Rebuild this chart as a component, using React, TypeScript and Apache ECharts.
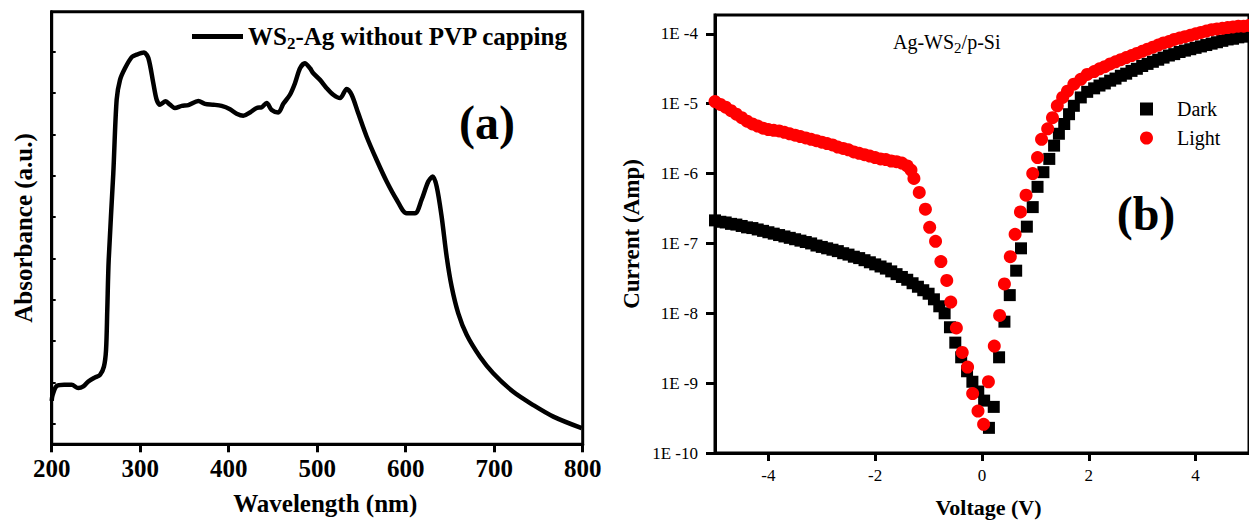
import React, { useEffect, useRef } from "react";
import * as echarts from "echarts";

// ---------- Panel (a): UV-Vis absorbance ----------
const wavelength = [200, 201, 205.6, 214, 222.6, 230, 235.7, 241.4, 249, 254.6, 259, 261.4, 262.8, 264.4, 269.6, 273.4, 277.2, 282.8, 290.4, 296, 304.3, 309.2, 314.8, 318.6, 322.4, 328.8, 333.7, 339.3, 346.9, 354.4, 365.7, 373.2, 382.6, 392, 401.5, 409, 416.5, 424, 431.6, 437.3, 442.9, 448.6, 456, 461.7, 469.2, 474.9, 480.6, 486, 491.9, 495.6, 503.2, 510.7, 518.2, 525.8, 533.3, 538.9, 546.4, 555.8, 567.2, 578.5, 589.8, 601.1, 610.5, 618, 625.5, 630.5, 635, 640.6, 646.3, 651.9, 659.4, 668.9, 683.9, 698.9, 721.5, 744.1, 766.8, 798.9];
const absorbance = [1.05, 1.19, 1.41, 1.44, 1.44, 1.36, 1.40, 1.52, 1.62, 1.68, 1.88, 2.28, 3.25, 4.46, 6.56, 8.34, 8.82, 9.10, 9.37, 9.43, 9.48, 9.35, 8.74, 8.34, 8.22, 8.30, 8.22, 8.14, 8.19, 8.21, 8.31, 8.24, 8.22, 8.19, 8.11, 8.00, 7.95, 8.03, 8.14, 8.16, 8.26, 8.09, 8.03, 8.24, 8.46, 8.74, 9.10, 9.22, 9.10, 8.98, 8.82, 8.62, 8.46, 8.38, 8.60, 8.46, 8.01, 7.45, 6.88, 6.36, 5.92, 5.59, 5.59, 5.92, 6.36, 6.48, 6.24, 5.51, 4.54, 3.82, 3.17, 2.65, 2.12, 1.72, 1.27, 0.95, 0.67, 0.39];
const wavelengthTicks = [200, 300, 400, 500, 600, 700, 800];
const absorbanceTicks = [0.5, 1.5, 2.5, 3.5, 4.5, 5.5, 6.5, 7.5, 8.5, 9.5];

// ---------- Panel (b): I-V, current stored as log10(I / A) ----------
const darkV = [-5.0, -4.9, -4.8, -4.7, -4.6, -4.5, -4.4, -4.3, -4.2, -4.1, -4.0, -3.9, -3.8, -3.7, -3.6, -3.5, -3.4, -3.3, -3.2, -3.1, -3.0, -2.9, -2.8, -2.7, -2.6, -2.5, -2.4, -2.3, -2.2, -2.1, -2.0, -1.9, -1.8, -1.7, -1.6, -1.5, -1.4, -1.3, -1.2, -1.1, -1.0, -0.9, -0.8, -0.7,
  -0.6, -0.5, -0.39, -0.28, -0.18, -0.07, 0.04, 0.13, 0.22, 0.32, 0.42, 0.52, 0.64, 0.73, 0.84, 0.95, 1.04, 1.15, 1.26, 1.35, 1.44, 1.54, 1.63, 1.72, 1.85, 1.97,
  2.1, 2.2, 2.3, 2.4, 2.5, 2.6, 2.7, 2.8, 2.9, 3.0, 3.1, 3.2, 3.3, 3.4, 3.5, 3.6, 3.7, 3.8, 3.9, 4.0, 4.1, 4.2, 4.3, 4.4, 4.5, 4.6, 4.7, 4.8, 4.9, 5.0];
const darkLogI = [-6.67, -6.69, -6.70, -6.72, -6.73, -6.75, -6.77, -6.78, -6.80, -6.82, -6.84, -6.86, -6.88, -6.90, -6.92, -6.94, -6.96, -6.98, -7.00, -7.03, -7.05, -7.07, -7.09, -7.11, -7.14, -7.16, -7.19, -7.21, -7.24, -7.27, -7.30, -7.33, -7.36, -7.40, -7.44, -7.48, -7.52, -7.57, -7.62, -7.67, -7.72, -7.80, -7.90, -8.00,
  -8.20, -8.42, -8.63, -8.83, -8.98, -9.12, -9.25, -9.64, -9.34, -8.63, -8.12, -7.74, -7.39, -7.07, -6.76, -6.48, -6.19, -5.98, -5.79, -5.60, -5.43, -5.29, -5.15, -5.03, -4.91, -4.83,
  -4.78, -4.74, -4.71, -4.67, -4.64, -4.60, -4.57, -4.53, -4.50, -4.46, -4.43, -4.40, -4.37, -4.34, -4.31, -4.29, -4.26, -4.24, -4.22, -4.20, -4.18, -4.16, -4.14, -4.12, -4.10, -4.08, -4.07, -4.05, -4.04, -4.03];

const lightV = [-5.0, -4.9, -4.8, -4.7, -4.6, -4.5, -4.4, -4.3, -4.2, -4.1, -4.0, -3.9, -3.8, -3.7, -3.6, -3.5, -3.4, -3.3, -3.2, -3.1, -3.0, -2.9, -2.8, -2.7, -2.6, -2.5, -2.4, -2.3, -2.2, -2.1, -2.0, -1.9, -1.8, -1.7, -1.6, -1.5, -1.4, -1.33,
  -1.275, -1.175, -1.06, -0.98, -0.87, -0.77, -0.66, -0.585, -0.48, -0.37, -0.27, -0.175, -0.075, 0.03, 0.12, 0.23, 0.33, 0.42, 0.53, 0.62, 0.72, 0.825, 0.95, 1.04, 1.115, 1.23, 1.32, 1.41, 1.51, 1.60, 1.72, 1.85, 1.97,
  2.1, 2.2, 2.3, 2.4, 2.5, 2.6, 2.7, 2.8, 2.9, 3.0, 3.1, 3.2, 3.3, 3.4, 3.5, 3.6, 3.7, 3.8, 3.9, 4.0, 4.1, 4.2, 4.3, 4.4, 4.5, 4.6, 4.7, 4.8, 4.9, 5.0];
const lightLogI = [-4.97, -5.01, -5.05, -5.10, -5.15, -5.20, -5.25, -5.29, -5.32, -5.35, -5.37, -5.38, -5.39, -5.41, -5.43, -5.45, -5.47, -5.49, -5.51, -5.53, -5.55, -5.57, -5.59, -5.62, -5.64, -5.66, -5.69, -5.71, -5.73, -5.75, -5.77, -5.79, -5.80, -5.82, -5.83, -5.85, -5.89, -5.95,
  -6.07, -6.27, -6.51, -6.77, -6.97, -7.26, -7.53, -7.84, -8.21, -8.56, -8.77, -9.15, -9.40, -9.59, -8.98, -8.47, -8.03, -7.58, -7.19, -6.87, -6.55, -6.31, -6.00, -5.77, -5.51, -5.36, -5.20, -5.03, -4.91, -4.82, -4.72, -4.65, -4.58,
  -4.54, -4.50, -4.47, -4.43, -4.40, -4.37, -4.34, -4.31, -4.28, -4.25, -4.22, -4.19, -4.16, -4.13, -4.11, -4.08, -4.06, -4.04, -4.02, -4.00, -3.98, -3.96, -3.94, -3.93, -3.92, -3.91, -3.90, -3.89, -3.89, -3.88];

const voltageTicks = [-4, -2, 0, 2, 4];
const currentTicks = [-10, -9, -8, -7, -6, -5, -4];

const FONT = '"Liberation Serif", "Times New Roman", serif';

function zip(a: number[], b: number[]) {
  const n = Math.min(a.length, b.length);
  const out: number[][] = [];
  for (let i = 0; i < n; i++) out.push([a[i], b[i]]);
  return out;
}

export default function App() {
  const ref = useRef<HTMLDivElement>(null);
  useEffect(() => {
    if (!ref.current) return;
    const chart = echarts.init(ref.current, null, { renderer: "svg" });
    const axisLine = { onZero: false, lineStyle: { color: "#000", width: 3 } };
    const option: any = {
      animation: false,
      textStyle: { fontFamily: FONT },
      grid: [
        { left: 51.7, top: 11.7, width: 531, height: 432.6, show: true, borderColor: "#000", borderWidth: 3 },
        { left: 715, top: 15, width: 539, height: 441, show: true, borderColor: "#000", borderWidth: 3 },
      ],
      xAxis: [
        {
          gridIndex: 0, type: "value", min: 200, max: 800, interval: 100,
          axisLine,
          axisTick: { length: 8, customValues: wavelengthTicks, lineStyle: { color: "#000", width: 3 } },
          axisLabel: { customValues: wavelengthTicks, color: "#000", fontSize: 25, fontWeight: "bold", fontFamily: FONT, margin: 12 },
          splitLine: { show: false },
          name: "Wavelength (nm)", nameLocation: "middle", nameGap: 47,
          nameTextStyle: { color: "#000", fontSize: 25, fontWeight: "bold", fontFamily: FONT, padding: [0, 0, 0, 16] },
        },
        {
          gridIndex: 1, type: "value", min: -5, max: 5,
          axisLine,
          axisTick: { length: 8, customValues: voltageTicks, lineStyle: { color: "#000", width: 3 } },
          axisLabel: { customValues: voltageTicks, color: "#000", fontSize: 17, fontFamily: FONT, margin: 14 },
          splitLine: { show: false },
          name: "Voltage (V)", nameLocation: "middle", nameGap: 43,
          nameTextStyle: { color: "#000", fontSize: 22, fontWeight: "bold", fontFamily: FONT, padding: [0, 0, 0, 13] },
        },
      ],
      yAxis: [
        {
          gridIndex: 0, type: "value", min: 0, max: 10.47,
          axisLine,
          axisTick: { inside: true, length: 4, customValues: absorbanceTicks, lineStyle: { color: "#000", width: 2 } },
          axisLabel: { show: false },
          splitLine: { show: false },
          name: "Absorbance (a.u.)", nameLocation: "middle", nameGap: 16,
          nameTextStyle: { color: "#000", fontSize: 25, fontWeight: "bold", fontFamily: FONT },
        },
        {
          gridIndex: 1, type: "value", min: -10, max: -3.73,
          axisLine,
          axisTick: { length: 9, customValues: currentTicks, lineStyle: { color: "#000", width: 3 } },
          axisLabel: {
            customValues: currentTicks, color: "#000", fontSize: 17, fontFamily: FONT, margin: 17,
            formatter: (v: number) => "1E " + Math.round(v),
          },
          splitLine: { show: false },
          name: "Current (Amp)", nameLocation: "middle", nameGap: 72,
          nameTextStyle: { color: "#000", fontSize: 23, fontWeight: "bold", fontFamily: FONT },
        },
      ],
      legend: [
        {
          data: ["WS2-Ag without PVP capping"],
          left: 192, top: 24, padding: 0,
          icon: "rect", itemWidth: 51, itemHeight: 5,
          formatter: () => "{n|WS}{s|2}{n|-Ag without PVP capping}",
          textStyle: {
            color: "#000",
            rich: {
              n: { fontSize: 25, fontWeight: "bold", fontFamily: FONT, color: "#000", lineHeight: 24 },
              s: { fontSize: 17, fontWeight: "bold", fontFamily: FONT, color: "#000", lineHeight: 10, verticalAlign: "top", padding: [10, 0, 0, 0] },
            },
          },
        },
        {
          data: [{ name: "Dark", icon: "rect" }, { name: "Light", icon: "circle" }],
          orient: "vertical", left: 1140, top: 99, padding: 0,
          itemWidth: 13, itemHeight: 13, itemGap: 9,
          itemStyle: { opacity: 1 },
          textStyle: { color: "#000", fontSize: 20, fontFamily: FONT, lineHeight: 20, padding: [0, 0, 0, 19] },
        },
      ],
      graphic: [
        { type: "text", x: 487, y: 122, style: { text: "(a)", fontSize: 48, fontWeight: "bold", fontFamily: FONT, fill: "#000", align: "center", verticalAlign: "middle" } },
        { type: "text", x: 1146, y: 213, style: { text: "(b)", fontSize: 48, fontWeight: "bold", fontFamily: FONT, fill: "#000", align: "center", verticalAlign: "middle" } },
        {
          type: "text", x: 893, y: 42,
          style: {
            text: "{n|Ag-WS}{s|2}{n|/p-Si}", align: "left", verticalAlign: "middle",
            rich: {
              n: { fontSize: 20, fontFamily: FONT, fill: "#000", lineHeight: 20 },
              s: { fontSize: 15, fontFamily: FONT, fill: "#000", lineHeight: 8, verticalAlign: "top", padding: [8, 0, 0, 0] },
            },
          },
        },
      ],
      series: [
        {
          name: "WS2-Ag without PVP capping", type: "line", xAxisIndex: 0, yAxisIndex: 0,
          data: zip(wavelength, absorbance), showSymbol: false, symbol: "none", smooth: 0.3,
          lineStyle: { color: "#000", width: 4.5 }, itemStyle: { color: "#000" },
        },
        {
          name: "Dark", type: "scatter", xAxisIndex: 1, yAxisIndex: 1,
          data: zip(darkV, darkLogI), symbol: "rect", symbolSize: 12,
          itemStyle: { color: "#000", opacity: 1 },
        },
        {
          name: "Light", type: "scatter", xAxisIndex: 1, yAxisIndex: 1,
          data: zip(lightV, lightLogI), symbol: "circle", symbolSize: 13,
          itemStyle: { color: "#ff0000", opacity: 1 },
        },
      ],
    };
    chart.setOption(option);
    return () => chart.dispose();
  }, []);
  return <div ref={ref} style={{ position: "fixed", left: 0, top: 0, width: 1249, height: 523, background: "#fff" }} />;
}
